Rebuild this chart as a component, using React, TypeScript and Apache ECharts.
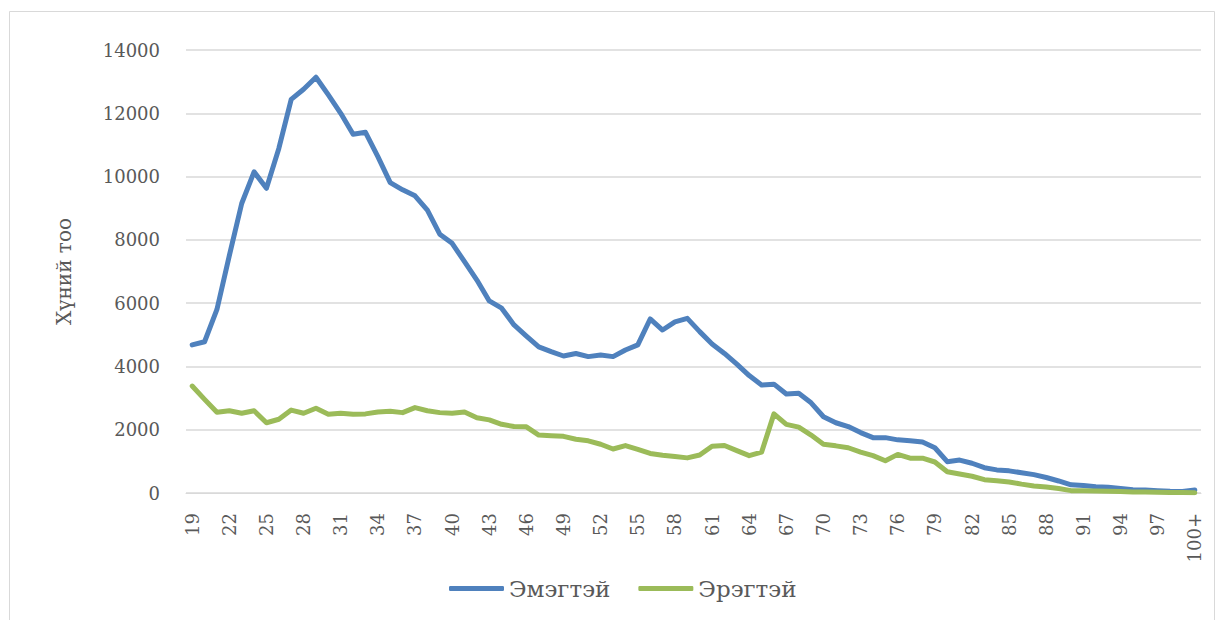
import React, { useEffect, useRef } from "react";
import * as echarts from "echarts";

const ages: string[] = [];
for (let a = 19; a <= 99; a++) ages.push(String(a));
ages.push("100+");

const female = [
  4680, 4780, 5800, 7500, 9150, 10150, 9630, 10890, 12440, 12760,
  13140, 12580, 12000, 11340, 11400, 10630, 9810, 9580, 9390, 8940,
  8180, 7890, 7310, 6730, 6070, 5840, 5310, 4960, 4620, 4470,
  4330, 4410, 4310, 4360, 4310, 4520, 4680, 5500, 5150, 5410,
  5520, 5100, 4710, 4410, 4070, 3710, 3410, 3440, 3130, 3150,
  2850, 2410, 2220, 2100, 1910, 1750, 1750, 1680, 1650, 1610,
  1430, 990, 1040, 940, 800, 730, 700, 640, 580, 490,
  380, 260, 240, 200, 180, 140, 105, 95, 75, 55,
  50, 95,
];

const male = [
  3380, 2960, 2550, 2600, 2520, 2600, 2220, 2330, 2620, 2520,
  2680, 2490, 2520, 2490, 2500, 2560, 2580, 2540, 2700, 2600,
  2540, 2520, 2560, 2380, 2310, 2170, 2100, 2090, 1830, 1810,
  1790, 1700, 1650, 1540, 1390, 1500, 1380, 1250, 1190, 1150,
  1110, 1200, 1480, 1500, 1340, 1180, 1290, 2500, 2170, 2080,
  1830, 1540, 1490, 1430, 1290, 1180, 1020, 1220, 1100, 1100,
  980, 670, 600, 530, 420, 390, 350, 280, 220, 190,
  140, 75, 68, 60, 55, 45, 35, 30, 25, 18,
  12, 10,
];

const seriesNames = ["Эмэгтэй", "Эрэгтэй"];
const yTicks = { min: 0, max: 14000, interval: 2000 };

export default function App() {
  const ref = useRef<HTMLDivElement>(null);
  useEffect(() => {
    if (!ref.current) return;
    const chart = echarts.init(ref.current, undefined, { renderer: "svg" });
    const font = "DejaVu Serif";
    chart.setOption({
      animation: false,
      backgroundColor: "#ffffff",
      textStyle: { fontFamily: font, color: "#595959" },
      graphic: [
        {
          type: "rect",
          shape: { x: 9.5, y: 11.5, width: 1205, height: 620 },
          style: { fill: "none", stroke: "#d9d9d9", lineWidth: 1 },
          silent: true,
        },
      ],
      grid: { left: 186, right: 20, top: 50, bottom: 127, containLabel: false },
      legend: {
        left: 444,
        top: 572,
        itemWidth: 55,
        itemHeight: 5,
        itemGap: 28,
        icon: "roundRect",
        textStyle: { fontFamily: font, fontSize: 23, color: "#595959" },
        data: seriesNames,
      },
      xAxis: {
        type: "category",
        data: ages,
        boundaryGap: true,
        axisLine: { show: true, lineStyle: { color: "#d9d9d9", width: 1 } },
        axisTick: { show: false },
        axisLabel: {
          interval: 2,
          rotate: 90,
          margin: 20,
          fontFamily: font,
          fontSize: 18,
          color: "#595959",
        },
      },
      yAxis: {
        type: "value",
        min: yTicks.min,
        max: yTicks.max,
        interval: yTicks.interval,
        name: "Хүний тоо",
        nameLocation: "middle",
        nameGap: 112,
        nameRotate: 90,
        nameTextStyle: { fontFamily: font, fontSize: 20, color: "#595959" },
        axisLine: { show: false },
        axisTick: { show: false },
        splitLine: { lineStyle: { color: "#d9d9d9", width: 1.5 } },
        axisLabel: {
          margin: 26,
          fontFamily: font,
          fontSize: 18,
          color: "#595959",
          formatter: (v: number) => String(v),
        },
      },
      series: [
        {
          name: seriesNames[0],
          type: "line",
          data: female,
          symbol: "none",
          lineStyle: { color: "#4f81bd", width: 5, cap: "round", join: "round" },
          itemStyle: { color: "#4f81bd" },
        },
        {
          name: seriesNames[1],
          type: "line",
          data: male,
          symbol: "none",
          lineStyle: { color: "#9bbb59", width: 5, cap: "round", join: "round" },
          itemStyle: { color: "#9bbb59" },
        },
      ],
    });
    return () => chart.dispose();
  }, []);
  return (
    <div
      ref={ref}
      style={{ position: "fixed", left: 0, top: 0, width: 1221, height: 620 }}
    />
  );
}
